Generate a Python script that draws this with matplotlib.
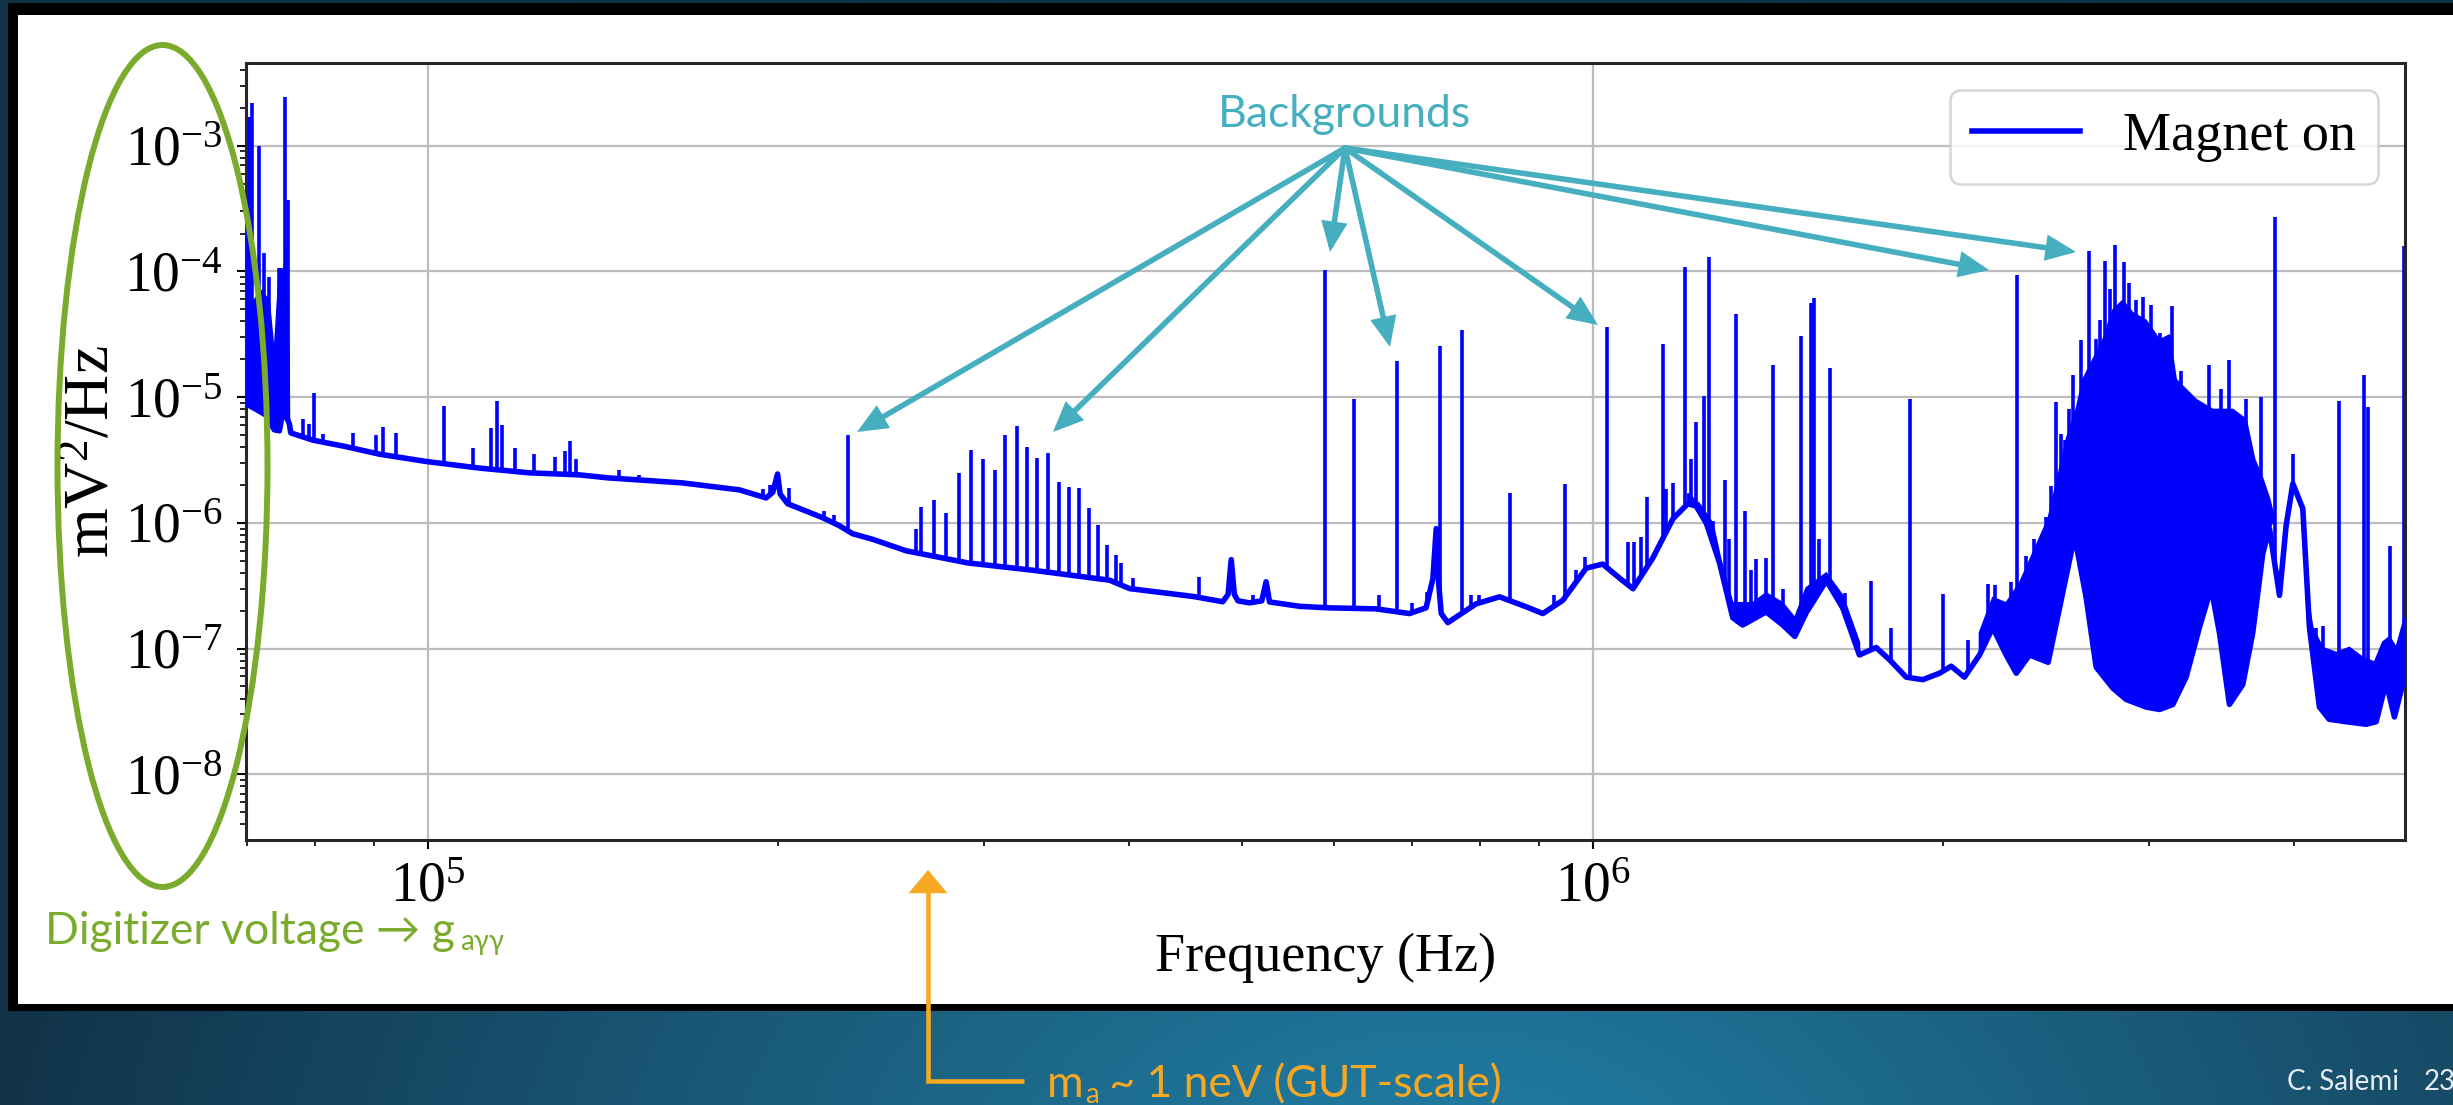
import numpy as np
import matplotlib
matplotlib.use("Agg")
import matplotlib.pyplot as plt
from matplotlib.patches import Ellipse, Rectangle, Polygon, FancyArrowPatch, ArrowStyle
from matplotlib.path import Path
from matplotlib.ticker import NullFormatter

# ---------------------------------------------------------------------------
# Power spectral density, magnet on
# ---------------------------------------------------------------------------
# noise floor (lower envelope of the spectrum), Hz and mV^2/Hz
floor_freq = np.array([
    69.8e3, 70.1e3, 71.25e3, 72.65e3, 73.85e3, 74.6e3, 75.2e3, 76.1e3, 76.3e3,
    79.7e3, 85.1e3, 90.9e3, 99.7e3, 110.7e3, 122.3e3, 134.9e3, 142.9e3,
    165.5e3, 185.2e3, 195.2e3, 197.8e3, 199.7e3, 200.7e3, 203.7e3, 218.3e3,
    225.6e3, 231.6e3, 241.0e3, 257.4e3, 290.9e3, 330.7e3, 384.9e3, 400.5e3,
    453.8e3, 481.4e3, 486.5e3, 489.5e3, 492.5e3, 496.0e3, 507.5e3, 520.0e3,
    524.4e3, 528.0e3, 560.1e3, 592.8e3, 651.8e3, 696.1e3, 719.4e3, 729.2e3,
    734.0e3, 737.8e3, 741.3e3, 751.0e3, 794.3e3, 831.8e3, 876.9e3, 906.2e3,
    942.6e3, 987.2e3, 1.020e6, 1.054e6, 1.083e6, 1.126e6, 1.172e6, 1.207e6,
    1.227e6, 1.252e6, 1.285e6, 1.319e6, 1.345e6, 1.409e6, 1.456e6, 1.491e6,
    1.525e6, 1.587e6, 1.639e6, 1.694e6, 1.751e6, 1.798e6, 1.858e6, 1.920e6,
    1.985e6, 2.031e6, 2.085e6, 2.148e6, 2.205e6, 2.264e6, 2.310e6, 2.371e6,
    2.460e6, 2.516e6, 2.592e6, 2.652e6, 2.705e6, 2.795e6, 2.870e6, 2.985e6,
    3.066e6, 3.147e6, 3.231e6, 3.317e6, 3.395e6, 3.451e6, 3.520e6, 3.614e6,
    3.686e6, 3.760e6, 3.810e6, 3.886e6, 3.937e6, 3.990e6, 4.069e6, 4.123e6,
    4.205e6, 4.287e6, 4.434e6, 4.612e6, 4.704e6, 4.797e6, 4.877e6, 4.975e6,
    5.0e6])
floor_psd = np.array([
    3.2e-5, 8.7e-6, 8.0e-6, 7.2e-6, 5.5e-6, 5.4e-6, 8.0e-6, 6.1e-6, 5.2e-6,
    4.55e-6, 4.04e-6, 3.52e-6, 3.08e-6, 2.73e-6, 2.50e-6, 2.41e-6, 2.28e-6,
    2.08e-6, 1.83e-6, 1.58e-6, 1.75e-6, 2.45e-6, 1.70e-6, 1.42e-6, 1.10e-6,
    9.5e-7, 8.2e-7, 7.4e-7, 6.0e-7, 4.8e-7, 4.2e-7, 3.5e-7, 3.0e-7,
    2.6e-7, 2.36e-7, 2.7e-7, 5.1e-7, 2.7e-7, 2.4e-7, 2.31e-7, 2.4e-7,
    3.4e-7, 2.35e-7, 2.17e-7, 2.11e-7, 2.07e-7, 1.9e-7, 2.11e-7, 3.6e-7,
    9.0e-7, 3.2e-7, 1.9e-7, 1.61e-7, 2.27e-7, 2.58e-7, 2.15e-7, 1.9e-7,
    2.42e-7, 4.36e-7, 4.7e-7, 3.65e-7, 2.99e-7, 5.24e-7, 1.08e-6, 1.42e-6,
    1.36e-6, 9.9e-7, 4.8e-7, 1.76e-7, 1.54e-7, 1.96e-7, 1.54e-7, 1.25e-7,
    1.93e-7, 3.48e-7, 2.11e-7, 8.9e-8, 1.02e-7, 8.15e-8, 5.93e-8, 5.66e-8,
    6.37e-8, 7.24e-8, 5.93e-8, 8.9e-8, 1.47e-7, 8.9e-8, 6.37e-8, 8.9e-8,
    7.78e-8, 2.11e-7, 7.89e-7, 2.54e-7, 7.11e-8, 4.86e-8, 3.94e-8, 3.43e-8,
    3.28e-8, 3.59e-8, 5.93e-8, 1.47e-7, 3.04e-7, 1.34e-7, 3.6e-8, 5.18e-8,
    1.34e-7, 5.74e-7, 9.0e-7, 2.65e-7, 9.46e-7, 2.05e-6, 1.3e-6, 1.47e-7,
    3.43e-8, 2.74e-8, 2.62e-8, 2.5e-8, 2.62e-8, 5.42e-8, 2.86e-8, 5.93e-8,
    1.5e-7])

# upper edges of the densely oscillating stretches
band_a_freq = np.array([69.8e3, 70.4e3, 71.0e3, 71.9e3, 73.1e3, 73.85e3, 74.6e3, 75.2e3, 75.9e3, 76.1e3])
band_a_top = np.array([3.0e-4, 6.0e-5, 5.9e-5, 7.1e-5, 5.9e-5, 2.2e-5, 1.0e-4, 1.0e-4, 1.6e-4, 6.6e-6])

band_b_freq = np.array([1.207e6, 1.235e6, 1.268e6, 1.293e6, 1.319e6, 1.372e6, 1.409e6,
                        1.456e6, 1.491e6, 1.525e6, 1.587e6, 1.639e6, 1.694e6])
band_b_top = np.array([1.71e-6, 1.42e-6, 9.9e-7, 4.36e-7, 2.31e-7, 2.31e-7, 2.77e-7,
                       2.31e-7, 1.76e-7, 3.04e-7, 3.99e-7, 2.65e-7, 1.12e-7])

band_c_freq = np.array([2.148e6, 2.205e6, 2.264e6, 2.325e6, 2.387e6, 2.460e6, 2.500e6,
                        2.550e6, 2.600e6, 2.635e6, 2.687e6, 2.741e6, 2.795e6, 2.851e6,
                        2.908e6, 2.985e6, 3.066e6, 3.127e6, 3.168e6, 3.296e6, 3.406e6,
                        3.544e6, 3.638e6, 3.699e6, 3.760e6, 3.810e6, 3.848e6])
band_c_top = np.array([1.34e-7, 2.54e-7, 2.31e-7, 3.33e-7, 5.74e-7, 1.08e-6, 2.05e-6,
                       4.63e-6, 7.98e-6, 1.38e-5, 1.98e-5, 2.85e-5, 4.91e-5, 5.89e-5,
                       4.69e-5, 4.09e-5, 2.85e-5, 3.12e-5, 1.38e-5, 9.57e-6, 7.98e-6,
                       7.98e-6, 6.65e-6, 3.22e-6, 2.24e-6, 1.56e-6, 1.08e-6])

band_d_freq = np.array([4.123e6, 4.150e6, 4.232e6, 4.346e6, 4.462e6, 4.581e6, 4.689e6,
                        4.767e6, 4.831e6, 4.894e6, 4.975e6])
band_d_top = np.array([2.11e-7, 1.47e-7, 1.02e-7, 9.3e-8, 1.02e-7, 8.5e-8, 7.8e-8,
                       1.13e-7, 1.24e-7, 1.02e-7, 1.76e-7])

# narrow lines standing above the floor: frequency and peak value
spike_freq = np.array([
    70.32e3, 70.68e3, 71.62e3, 72.35e3, 73.08e3, 74.56e3, 74.86e3, 75.46e3, 75.86e3,
    78.1e3, 79.15e3, 79.94e3, 81.26e3, 86.35e3, 90.3e3, 91.5e3, 93.96e3, 103.35e3,
    109.3e3, 113.3e3, 114.6e3, 115.8e3, 118.9e3, 123.5e3, 128.5e3, 131.3e3, 132.5e3,
    134.1e3, 146.1e3, 152.0e3, 194.0e3, 196.6e3, 204.4e3, 219.0e3, 223.4e3, 229.4e3,
    262.6e3, 265.2e3, 272.2e3, 278.6e3, 286.0e3, 292.7e3, 299.6e3, 306.6e3, 313.3e3,
    320.4e3, 327.0e3, 333.5e3, 341.0e3, 348.1e3, 355.1e3, 362.2e3, 369.4e3, 376.0e3,
    382.8e3, 389.9e3, 393.8e3, 403.0e3, 459.1e3, 510.9e3, 589.6e3, 624.5e3, 656.1e3,
    679.1e3, 699.8e3, 720.4e3, 738.8e3, 772.1e3, 786.5e3, 799.5e3, 848.5e3, 927.3e3,
    947.6e3, 967.8e3, 984.0e3, 1.029e6, 1.072e6, 1.086e6, 1.100e6, 1.113e6, 1.148e6,
    1.156e6, 1.172e6, 1.199e6, 1.215e6, 1.227e6, 1.247e6, 1.258e6, 1.268e6, 1.298e6,
    1.310e6, 1.328e6, 1.350e6, 1.368e6, 1.381e6, 1.409e6, 1.428e6, 1.456e6, 1.508e6,
    1.540e6, 1.550e6, 1.565e6, 1.599e6, 1.648e6, 1.734e6, 1.804e6, 1.873e6, 1.998e6,
    2.099e6, 2.183e6, 2.213e6, 2.287e6, 2.313e6, 2.355e6, 2.394e6, 2.450e6, 2.475e6,
    2.500e6, 2.525e6, 2.541e6, 2.566e6, 2.583e6, 2.626e6, 2.666e6, 2.705e6, 2.723e6,
    2.755e6, 2.781e6, 2.810e6, 2.859e6, 2.889e6, 2.927e6, 2.966e6, 3.015e6, 3.066e6,
    3.144e6, 3.200e6, 3.383e6, 3.462e6, 3.516e6, 3.638e6, 3.747e6, 3.855e6, 3.990e6,
    4.178e6, 4.232e6, 4.370e6, 4.592e6, 4.628e6, 4.831e6, 4.975e6])
spike_peak = np.array([
    1.7e-3, 2.2e-3, 1.0e-3, 1.39e-4, 9.1e-5, 1.07e-4, 1.07e-4, 2.45e-3, 3.7e-4,
    6.65e-6, 6.08e-6, 1.07e-5, 5.07e-6, 5.16e-6, 5.0e-6, 5.8e-6, 5.16e-6, 8.5e-6,
    3.94e-6, 5.65e-6, 9.3e-6, 5.97e-6, 3.94e-6, 3.52e-6, 3.36e-6, 3.7e-6, 4.51e-6,
    3.2e-6, 2.64e-6, 2.4e-6, 1.87e-6, 2.0e-6, 1.9e-6, 1.24e-6, 1.16e-6, 4.98e-6,
    9.0e-7, 1.33e-6, 1.53e-6, 1.19e-6, 2.49e-6, 3.79e-6, 3.22e-6, 2.61e-6, 4.98e-6,
    5.92e-6, 4.01e-6, 3.28e-6, 3.59e-6, 2.1e-6, 1.94e-6, 1.9e-6, 1.32e-6, 9.7e-7,
    6.7e-7, 5.6e-7, 4.8e-7, 3.64e-7, 3.74e-7, 2.65e-7, 1.03e-4, 9.7e-6, 2.65e-7,
    1.95e-5, 2.3e-7, 2.8e-7, 2.55e-5, 3.41e-5, 2.65e-7, 2.65e-7, 1.74e-6, 2.65e-7,
    2.03e-6, 4.18e-7, 5.33e-7, 3.64e-5, 7.0e-7, 7.0e-7, 7.67e-7, 1.61e-6, 2.65e-5,
    1.87e-6, 2.08e-6, 1.09e-4, 3.2e-6, 6.37e-6, 1.03e-5, 1.3e-4, 1.03e-6, 2.2e-6,
    7.5e-7, 4.6e-5, 1.24e-6, 4.2e-7, 5.2e-7, 5.3e-7, 1.8e-5, 3.0e-7, 3.06e-5,
    5.6e-5, 6.1e-5, 7.5e-7, 1.7e-5, 2.77e-7, 3.48e-7, 1.47e-7, 9.6e-6, 2.72e-7,
    1.17e-7, 3.27e-7, 3.2e-7, 3.4e-7, 9.3e-5, 5.5e-7, 7.5e-7, 1.12e-6, 1.95e-6,
    9.1e-6, 5.07e-6, 4.6e-6, 8.0e-6, 1.5e-5, 2.85e-5, 1.46e-4, 2.9e-5, 4.1e-5,
    1.22e-4, 7.2e-5, 1.63e-4, 1.19e-4, 8.1e-5, 5.9e-5, 6.3e-5, 5.4e-5, 3.26e-5,
    5.3e-5, 1.62e-5, 1.81e-5, 1.17e-5, 1.98e-5, 9.6e-6, 1.0e-5, 2.7e-4, 3.52e-6,
    1.47e-7, 1.5e-7, 9.4e-6, 1.5e-5, 8.4e-6, 6.6e-7, 1.6e-4])

# axis extents
freq_lim = (6.984e4, 4.98e6)
psd_lim = (3.03e-9, 4.55e-3)

# ---------------------------------------------------------------------------
# styling
# ---------------------------------------------------------------------------
plt.rcParams['font.family'] = 'Liberation Serif'
plt.rcParams['mathtext.fontset'] = 'custom'
plt.rcParams['mathtext.rm'] = 'Liberation Serif'
plt.rcParams['mathtext.it'] = 'Liberation Serif:italic'
plt.rcParams['mathtext.bf'] = 'Liberation Serif:bold'

SANS = ['Lato', 'DejaVu Sans']
TEAL = '#46afbf'
GREEN = '#7aab2d'
ORANGE = '#f7a823'
BLUE = '#0000ff'

W, H = 2453, 1105
fig = plt.figure(figsize=(W / 100, H / 100), dpi=100)

# slide background: radial blue-teal gradient
bg = fig.add_axes([0, 0, 1, 1], zorder=0)
bg.set_xlim(0, W)
bg.set_ylim(H, 0)
bg.axis('off')
gy, gx = np.mgrid[0:H:5, 0:W:5]
dist = np.clip(np.hypot((gx - 1450) / 1500.0, (gy - 1250) / 1100.0), 0, 1)
c_in = np.array([0x22, 0x84, 0xab]) / 255.0
c_out = np.array([0x11, 0x31, 0x47]) / 255.0
grad = c_in * (1 - dist)[..., None] + c_out * dist[..., None]
bg.imshow(grad, extent=(0, W, H, 0), aspect='auto', interpolation='bilinear')

# framed white panel
bg.add_patch(Rectangle((8, 3), W, 1008, facecolor='black', edgecolor='none'))
bg.add_patch(Rectangle((18, 15), W, 989, facecolor='white', edgecolor='none'))

# ---------------------------------------------------------------------------
# spectrum axes
# ---------------------------------------------------------------------------
ax = fig.add_axes([246 / W, 1 - 839.5 / H, 2159 / W, 776.5 / H], zorder=1)
ax.set_facecolor('white')
ax.set_xscale('log')
ax.set_yscale('log')
ax.set_xlim(*freq_lim)
ax.set_ylim(*psd_lim)

# region above the noise floor, used to trim the narrow lines
above_floor = Polygon(np.c_[np.r_[floor_freq, floor_freq[-1] * 2, floor_freq[0] / 2],
                            np.r_[floor_psd, 1.0, 1.0]],
                      closed=True, transform=ax.transData)
lines = ax.vlines(spike_freq, 1e-12, spike_peak, color=BLUE, lw=2.6, zorder=2.5)
lines.set_clip_path(above_floor)

for bf, bt in [(band_a_freq, band_a_top), (band_b_freq, band_b_top),
               (band_c_freq, band_c_top), (band_d_freq, band_d_top)]:
    sel = (floor_freq >= bf[0]) & (floor_freq <= bf[-1])
    ax.fill(np.r_[bf, floor_freq[sel][::-1]], np.r_[bt, floor_psd[sel][::-1]],
            color=BLUE, lw=1.2, zorder=2.6)

ax.plot(floor_freq, floor_psd, color=BLUE, lw=4.0, solid_joinstyle='round',
        label='Magnet on', zorder=3)

ax.set_axisbelow(True)
ax.grid(True, which='major', color='#bdbdbd', lw=1.6)
for sp in ax.spines.values():
    sp.set_linewidth(2.2)
    sp.set_color('#262626')
ax.tick_params(which='major', length=6.5, width=1.5, labelsize=40, colors='black')
ax.tick_params(axis='y', which='major', pad=10)
ax.tick_params(axis='x', which='major', pad=9)
ax.tick_params(which='minor', length=4, width=1.2)
ax.xaxis.set_minor_formatter(NullFormatter())
ax.yaxis.set_minor_formatter(NullFormatter())

ax.set_xlabel('Frequency (Hz)', fontsize=39)
ax.set_ylabel('mV$^2$/Hz', fontsize=46)
ax.xaxis.set_label_coords(0.5, -0.120)
ax.yaxis.set_label_coords(-0.057, 0.5)

leg = ax.legend(loc='upper right', fontsize=39, framealpha=0.8, fancybox=True,
                borderaxespad=0.5)
leg.get_frame().set_edgecolor('#cccccc')
leg.get_frame().set_linewidth(1.8)

# ---------------------------------------------------------------------------
# annotations (figure pixel coordinates)
# ---------------------------------------------------------------------------
ov = fig.add_axes([0, 0, 1, 1], zorder=2)
ov.set_xlim(0, W)
ov.set_ylim(H, 0)
ov.axis('off')
ov.patch.set_alpha(0)

ov.add_patch(Ellipse((162.5, 466), 210, 842, fill=False, edgecolor=GREEN, lw=4.3))
g1 = ov.text(45, 944, 'Digitizer voltage \u2192 g', color=GREEN, fontsize=32,
             family=SANS, va='baseline', ha='left')
ov.annotate('a\u03b3\u03b3', xy=(1, 0), xycoords=g1, xytext=(5, -3),
            textcoords='offset pixels', color=GREEN, fontsize=20, family=SANS,
            va='bottom', ha='left')

ov.text(1345, 127, 'Backgrounds', color=TEAL, fontsize=32, family=SANS,
        ha='center', va='baseline')
origin = (1345, 148)
tips = [(857, 432), (1053, 432), (1330, 252), (1390, 347), (1598, 325),
        (1989, 270), (2076, 252)]
head = ArrowStyle('-|>', head_length=15, head_width=6.5)
for tip in tips:
    ov.add_patch(FancyArrowPatch(origin, tip, arrowstyle=head, mutation_scale=1,
                                 color=TEAL, lw=4.0, shrinkA=0, shrinkB=0,
                                 joinstyle='miter'))

# axion-mass marker
ov.add_patch(FancyArrowPatch(path=Path([(1024, 1081), (928, 1081), (928, 870)]),
                             arrowstyle=ArrowStyle('-|>', head_length=12.5, head_width=10.5),
                             mutation_scale=1, color=ORANGE, lw=3.3,
                             joinstyle='miter', capstyle='butt'))
o1 = ov.text(1047, 1097, 'm', color=ORANGE, fontsize=32, family=SANS,
             va='baseline', ha='left')
o2 = ov.annotate('a', xy=(1, 0), xycoords=o1, xytext=(1, -3),
                 textcoords='offset pixels', color=ORANGE, fontsize=20,
                 family=SANS, va='bottom', ha='left')
ov.annotate(' ~ 1 neV (GUT-scale)', xy=(1, 0), xycoords=(o2, o1), xytext=(0, 0),
            textcoords='offset pixels', color=ORANGE, fontsize=32, family=SANS,
            va='bottom', ha='left')

ov.text(2287, 1090, 'C. Salemi', color='#e4ecf1', fontsize=20, family=SANS,
        va='baseline', ha='left')
ov.text(2424, 1090, '23', color='#e4ecf1', fontsize=20, family=SANS,
        va='baseline', ha='left')

fig.savefig('out.png', dpi=100)
